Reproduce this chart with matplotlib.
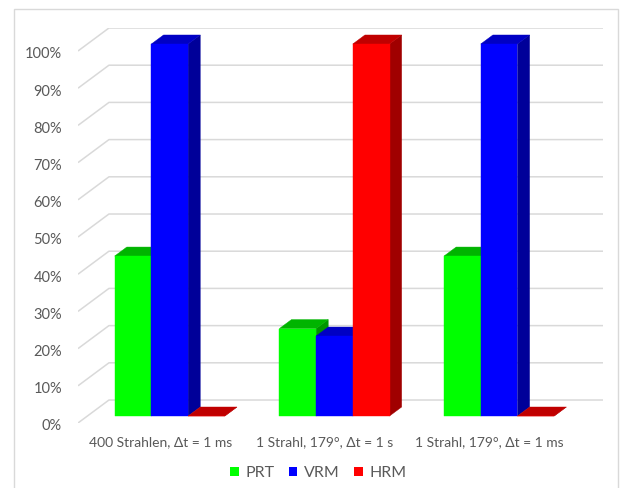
import matplotlib.pyplot as plt
from matplotlib.patches import Polygon, Patch, Rectangle
from matplotlib.transforms import ScaledTranslation

plt.rcParams['font.family'] = ['Lato', 'DejaVu Sans']

# data (percent)
categories = ['400 Strahlen, Δt = 1 ms', '1 Strahl, 179°, Δt = 1 s', '1 Strahl, 179°, Δt = 1 ms']
series = ['PRT', 'VRM', 'HRM']
prt = [43, 23.5, 43]
vrm = [100, 21.5, 100]
hrm = [0, 100, 0]
yticks = list(range(0, 101, 10))

# colours: front, top, side
colors = {
    'PRT': ('#00FF00', '#00B400', '#009600'),
    'VRM': ('#0000FF', '#0000C4', '#000099'),
    'HRM': ('#FF0000', '#C00000', '#A00000'),
}
text_color = '#595959'
grid_color = '#D9D9D9'

# fake 3d: depth z in 0..1 shifts right/up
depth_x = 0.188
depth_y = 6.18
bar_w = 0.223
z0, z1 = 0.304, 0.696


def proj(x, y, z):
    return (x + depth_x * z, y + depth_y * z)


fig = plt.figure(figsize=(6.32, 4.88), dpi=100)
W, H = 632, 488
ax = fig.add_axes([78 / W, (H - 423) / H, (603 - 78) / W, 395 / H])
ax.set_xlim(-0.5, len(categories) - 0.5 + depth_x)
ax.set_ylim(0, 100 + depth_y)

# walls / gridlines
for v in yticks:
    xs, ys = zip(proj(-0.5, v, 0), proj(-0.5, v, 1), proj(len(categories) - 0.5, v, 1))
    ax.plot(xs, ys, color=grid_color, lw=1.1, zorder=1, solid_capstyle='butt')

# bars
gap = (1 - len(series) * bar_w) / 2
values = {'PRT': prt, 'VRM': vrm, 'HRM': hrm}
for k in range(len(categories)):
    for j, name in enumerate(series):
        v = values[name][k]
        x0 = k - 0.5 + gap + j * bar_w
        x1 = x0 + bar_w
        front_c, top_c, side_c = colors[name]
        side = [proj(x1, 0, z0), proj(x1, 0, z1), proj(x1, v, z1), proj(x1, v, z0)]
        top = [proj(x0, v, z0), proj(x1, v, z0), proj(x1, v, z1), proj(x0, v, z1)]
        front = [proj(x0, 0, z0), proj(x1, 0, z0), proj(x1, v, z0), proj(x0, v, z0)]
        for pts, c in ((side, side_c), (top, top_c), (front, front_c)):
            ax.add_patch(Polygon(pts, closed=True, facecolor=c, edgecolor=c, lw=0.3, zorder=3))

ax.set_yticks(yticks)
ax.set_yticklabels([f'{v}%' for v in yticks])
ax.set_xticks(range(len(categories)))
ax.set_xticklabels(categories)
ax.tick_params(axis='y', length=0, pad=11.5, labelsize=10.5, labelcolor=text_color)
ax.tick_params(axis='x', length=0, pad=9.5, labelsize=10, labelcolor=text_color)
shift = ScaledTranslation(0, -2 / 100, fig.dpi_scale_trans)
for lab in ax.get_yticklabels():
    lab.set_transform(lab.get_transform() + shift)
for s in ax.spines.values():
    s.set_visible(False)
ax.set_facecolor('none')

handles = [Patch(facecolor=colors[n][0], edgecolor='none', label=n) for n in series]
leg = fig.legend(handles=handles, loc='center', bbox_to_anchor=(318 / W, 1 - 473 / H),
                 ncol=3, frameon=False, fontsize=11.5, handlelength=0.55, handleheight=0.55,
                 handletextpad=0.4, columnspacing=0.9)
for t in leg.get_texts():
    t.set_color(text_color)

# outer chart border
fig.patches.append(Rectangle((14 / W, -0.02), (618 - 14) / W, 1.02 - 9 / H,
                             transform=fig.transFigure, fill=False,
                             edgecolor=grid_color, lw=1))

fig.savefig('out.png', dpi=100)
